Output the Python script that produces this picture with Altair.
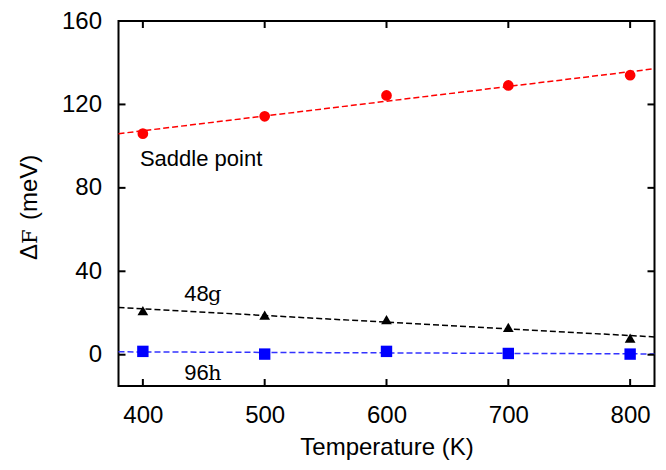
import altair as alt
import pandas as pd

# ---- data ----
temps = [400, 500, 600, 700, 800]
saddle = [106, 114.3, 124.3, 129.1, 134]
site48g = [21.1, 19, 16.8, 13.1, 8.0]
site96h = [1.6, 0.3, 1.6, 0.6, 0.3]
series_names = ["Saddle point", "48g", "96h"]
series_colors = ["#ff0000", "#000000", "#0000ff"]
series_shapes = ["circle", "triangle-up", "square"]
series_sizes = [115, 115, 130]
x_ticks = [400, 500, 600, 700, 800]
y_ticks = [0, 40, 80, 120, 160]
x_title = "Temperature (K)"
y_title_parts = ["Δ", "F", "(meV)"]
label_sans = ["Saddle point", "48", "96"]
label_sans_T = [397.6, 434, 434]
label_sans_E = [90.7, 25.6, -12]
label_serif = ["g", "h"]
label_serif_T = [453.5, 453.5]
label_serif_E = [25.6, -12]

W, H = 536, 365
SANS = "Liberation Sans"
SERIF = "DejaVu Serif"

rows = []
for name, vals in zip(series_names, [saddle, site48g, site96h]):
    for t, v in zip(temps, vals):
        rows.append({"T": t, "E": v, "s": name})
df = pd.DataFrame(rows)

xs = alt.Scale(domain=[380, 820], nice=False, zero=False)
ys = alt.Scale(domain=[-15, 160], nice=False, zero=False)
xaxis = alt.Axis(values=x_ticks, format="d", labelPadding=17, titlePadding=8,
                 domain=False, ticks=False, grid=False)
yaxis = alt.Axis(values=y_ticks, format="d", labelPadding=17,
                 domain=False, ticks=False, grid=False)
cs = alt.Scale(domain=series_names, range=["#ff0000", "#000000", "#3333ff"])

X = alt.X("T:Q", scale=xs, axis=xaxis, title=x_title)
Y = alt.Y("E:Q", scale=ys, axis=yaxis, title=None)

layers = []
lines = alt.Chart(df).transform_regression(
    "T", "E", groupby=["s"], extent=[380, 820]
).mark_line(strokeDash=[6, 3], strokeWidth=1.5).encode(
    x=X, y=Y, color=alt.Color("s:N", scale=cs, legend=None)
)
layers.append(lines)

for name, col, shp, sz in zip(series_names, series_colors, series_shapes, series_sizes):
    layers.append(
        alt.Chart(df).transform_filter(alt.datum.s == name).mark_point(
            filled=True, opacity=1, color=col, shape=shp, size=sz
        ).encode(x=X, y=Y)
    )

# inward ticks on all four sides
xt = pd.DataFrame({"T": x_ticks})
yt = pd.DataFrame({"E": y_ticks})
tick_style = dict(color="black", strokeWidth=2)
layers.append(alt.Chart(xt).mark_rule(**tick_style).encode(x=X, y=alt.value(H), y2=alt.value(H - 7)))
layers.append(alt.Chart(xt).mark_rule(**tick_style).encode(x=X, y=alt.value(0), y2=alt.value(7)))
layers.append(alt.Chart(yt).mark_rule(**tick_style).encode(y=Y, x=alt.value(0), x2=alt.value(7)))
layers.append(alt.Chart(yt).mark_rule(**tick_style).encode(y=Y, x=alt.value(W), x2=alt.value(W - 7)))

# annotations
lab1 = pd.DataFrame({"T": label_sans_T, "E": label_sans_E, "txt": label_sans})
lab2 = pd.DataFrame({"T": label_serif_T, "E": label_serif_E, "txt": label_serif})
layers.append(alt.Chart(lab1).mark_text(
    font=SANS, fontSize=22, align="left", baseline="alphabetic", color="black"
).encode(x=X, y=Y, text="txt:N"))
layers.append(alt.Chart(lab2).mark_text(
    font=SERIF, fontSize=21, align="left", baseline="alphabetic", color="black"
).encode(x=X, y=Y, text="txt:N"))

# y title made of mixed fonts
yt_fonts = [SANS, SERIF, SANS]
yt_pos = [239, 223, 199]
for part, fnt, pos in zip(y_title_parts, yt_fonts, yt_pos):
    layers.append(alt.Chart(pd.DataFrame({"txt": [part]})).mark_text(
        font=fnt, fontSize=24 if fnt == SANS else 21, angle=270, align="left",
        baseline="alphabetic", color="black"
    ).encode(text="txt:N", x=alt.value(-81.5), y=alt.value(pos)))

chart = alt.layer(*layers).properties(
    width=W, height=H,
    autosize=alt.AutoSizeParams(type="none"),
    padding={"left": 110.5, "top": 13, "right": 3, "bottom": 76},
).configure(
    background="white"
).configure_view(
    stroke="black", strokeWidth=2
).configure_axis(
    labelFont=SANS, labelFontSize=24, labelColor="black",
    titleFont=SANS, titleFontSize=24, titleFontWeight="normal", titleColor="black",
    domain=False, ticks=False, grid=False,
)

chart.save("out.html", embed_options={"renderer": "svg", "actions": False})
